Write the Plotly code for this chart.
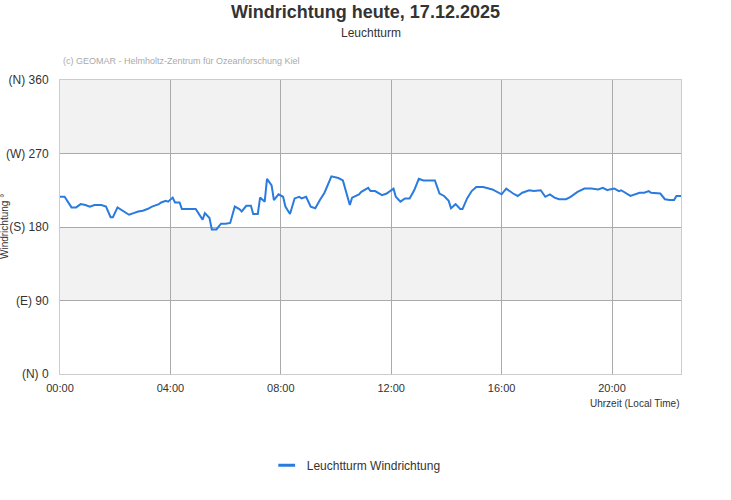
import plotly.graph_objects as go

day = "2025-12-17"

# Zeitpunkte (Ortszeit) und Windrichtung in Grad
times = ["00:00", "00:10", "00:25", "00:35", "00:45", "00:55", "01:05", "01:15", "01:30", "01:40",
         "01:50", "01:55", "02:05", "02:15", "02:30", "02:40", "02:50", "03:00", "03:10", "03:20",
         "03:35", "03:40", "03:50", "03:55", "04:05", "04:10", "04:20", "04:25", "04:55", "05:10",
         "05:15", "05:25", "05:30", "05:40", "05:50", "06:00", "06:10", "06:20", "06:30", "06:35",
         "06:45", "06:55", "07:00", "07:10", "07:15", "07:25", "07:30", "07:40", "07:45", "07:55",
         "08:05", "08:10", "08:20", "08:30", "08:40", "08:45", "08:55", "09:05", "09:15", "09:25",
         "09:35", "09:50", "10:05", "10:15", "10:30", "10:35", "10:50", "10:55", "11:10", "11:15",
         "11:25", "11:40", "11:50", "12:05", "12:10", "12:20", "12:30", "12:40", "12:50", "13:00",
         "13:10", "13:20", "13:35", "13:45", "13:55", "14:05", "14:10", "14:20", "14:30", "14:35",
         "14:45", "14:55", "15:05", "15:20", "15:35", "15:40", "16:00", "16:10", "16:25", "16:35",
         "16:45", "17:00", "17:10", "17:25", "17:35", "17:45", "17:55", "18:05", "18:20", "18:30",
         "18:45", "19:00", "19:15", "19:30", "19:40", "19:50", "19:55", "20:05", "20:15", "20:20",
         "20:40", "20:50", "21:00", "21:10", "21:20", "21:25", "21:40", "21:45", "21:55", "22:05",
         "22:15", "22:20", "22:30"]
direction = [217, 217, 204, 204, 208, 207, 205, 207, 207, 205,
             192, 192, 204, 200, 195, 197, 199, 200, 202, 205,
             208, 210, 212, 211, 216, 210, 210, 202, 202, 189,
             197, 191, 177, 177, 184, 184, 185, 205, 202, 199,
             206, 206, 196, 196, 216, 211, 239, 231, 213, 220,
             217, 205, 196, 215, 217, 215, 217, 205, 203, 213,
             222, 242, 240, 237, 207, 216, 220, 223, 228, 224,
             224, 219, 221, 227, 217, 211, 215, 215, 225, 239,
             237, 237, 237, 221, 218, 212, 203, 208, 202, 202,
             215, 224, 229, 229, 227, 226, 220, 227, 221, 218,
             222, 225, 224, 225, 217, 220, 216, 214, 214, 217,
             223, 227, 227, 226, 228, 225, 226, 227, 224, 225,
             218, 220, 222, 222, 224, 222, 221, 221, 214, 213,
             213, 218, 218]

ytick_vals = [0, 90, 180, 270, 360]
ytick_text = ["(N) 0", "(E) 90", "(S) 180", "(W) 270", "(N) 360"]
xtick_vals = ["00:00", "04:00", "08:00", "12:00", "16:00", "20:00"]

x = [day + " " + t for t in times]
font = "Liberation Sans, Arial, sans-serif"
blue = "#2b7bde"

fig = go.Figure()
fig.add_trace(go.Scatter(
    x=x, y=direction, mode="lines", name="Leuchtturm Windrichtung",
    line=dict(color=blue, width=2), showlegend=False))
# nur fuer die Legende (kurzes Liniensymbol)
fig.add_trace(go.Scatter(
    x=[None], y=[None], mode="markers", name="Leuchtturm Windrichtung",
    marker=dict(symbol="line-ew-open", size=12, color=blue, line=dict(color=blue, width=3))))

# graue Bänder
for lo, hi in [(270, 360), (90, 180)]:
    fig.add_shape(type="rect", xref="x domain", yref="y", x0=0, x1=1, y0=lo, y1=hi,
                  fillcolor="#f2f2f2", line_width=0, layer="below")

fig.update_layout(
    width=731, height=500,
    margin=dict(l=60, r=50, t=80, b=126, autoexpand=False),
    paper_bgcolor="white", plot_bgcolor="white",
    font=dict(family=font, color="#333333"),
    title=dict(text="<b>Windrichtung heute, 17.12.2025</b>", x=0.5, xanchor="center",
               y=1 - 12 / 500, yanchor="middle", font=dict(size=18, color="#333333")),
    showlegend=True,
    legend=dict(orientation="h", x=0.477, xanchor="center", y=-0.31, yanchor="middle",
                font=dict(size=12, color="#333333"), itemwidth=30),
)

fig.update_xaxes(
    type="date", range=[day + " 00:00", day + " 22:30"], automargin=False,
    tickvals=[day + " " + t for t in xtick_vals], ticktext=xtick_vals,
    showgrid=True, gridcolor="#aaaaaa", gridwidth=1,
    showline=True, linecolor="#cccccc", mirror=True, zeroline=False,
    ticks="", ticklabelstandoff=4, tickfont=dict(size=11, color="#333333"))
fig.update_yaxes(
    range=[0, 360], tickvals=ytick_vals, ticktext=ytick_text, automargin=False,
    showgrid=True, gridcolor="#aaaaaa", gridwidth=1,
    showline=True, linecolor="#cccccc", mirror=True, zeroline=False,
    ticks="", ticklabelstandoff=8, tickfont=dict(size=12, color="#333333"))

fig.add_annotation(text="Leuchtturm", xref="paper", yref="paper", x=0.5, y=(374 - 33) / 294,
                   xanchor="center", yanchor="middle", showarrow=False,
                   font=dict(size=12, color="#333333"))
fig.add_annotation(text="(c) GEOMAR - Helmholtz-Zentrum für Ozeanforschung Kiel",
                   xref="paper", yref="paper", x=0.002, y=(374 - 61) / 294,
                   xanchor="left", yanchor="middle", showarrow=False,
                   font=dict(size=9, color="#aaaaaa"))
fig.add_annotation(text="Windrichtung °", xref="paper", yref="paper", x=-56 / 621, y=0.5,
                   xanchor="center", yanchor="middle", textangle=-90, showarrow=False,
                   font=dict(size=10, color="#333333"))
fig.add_annotation(text="Uhrzeit (Local Time)", xref="paper", yref="paper", x=1, y=-30 / 294,
                   xanchor="right", yanchor="middle", showarrow=False,
                   font=dict(size=10, color="#333333"))

fig.write_html("out.html", config={"displayModeBar": False},
               post_script="document.body.style.margin='0';")
